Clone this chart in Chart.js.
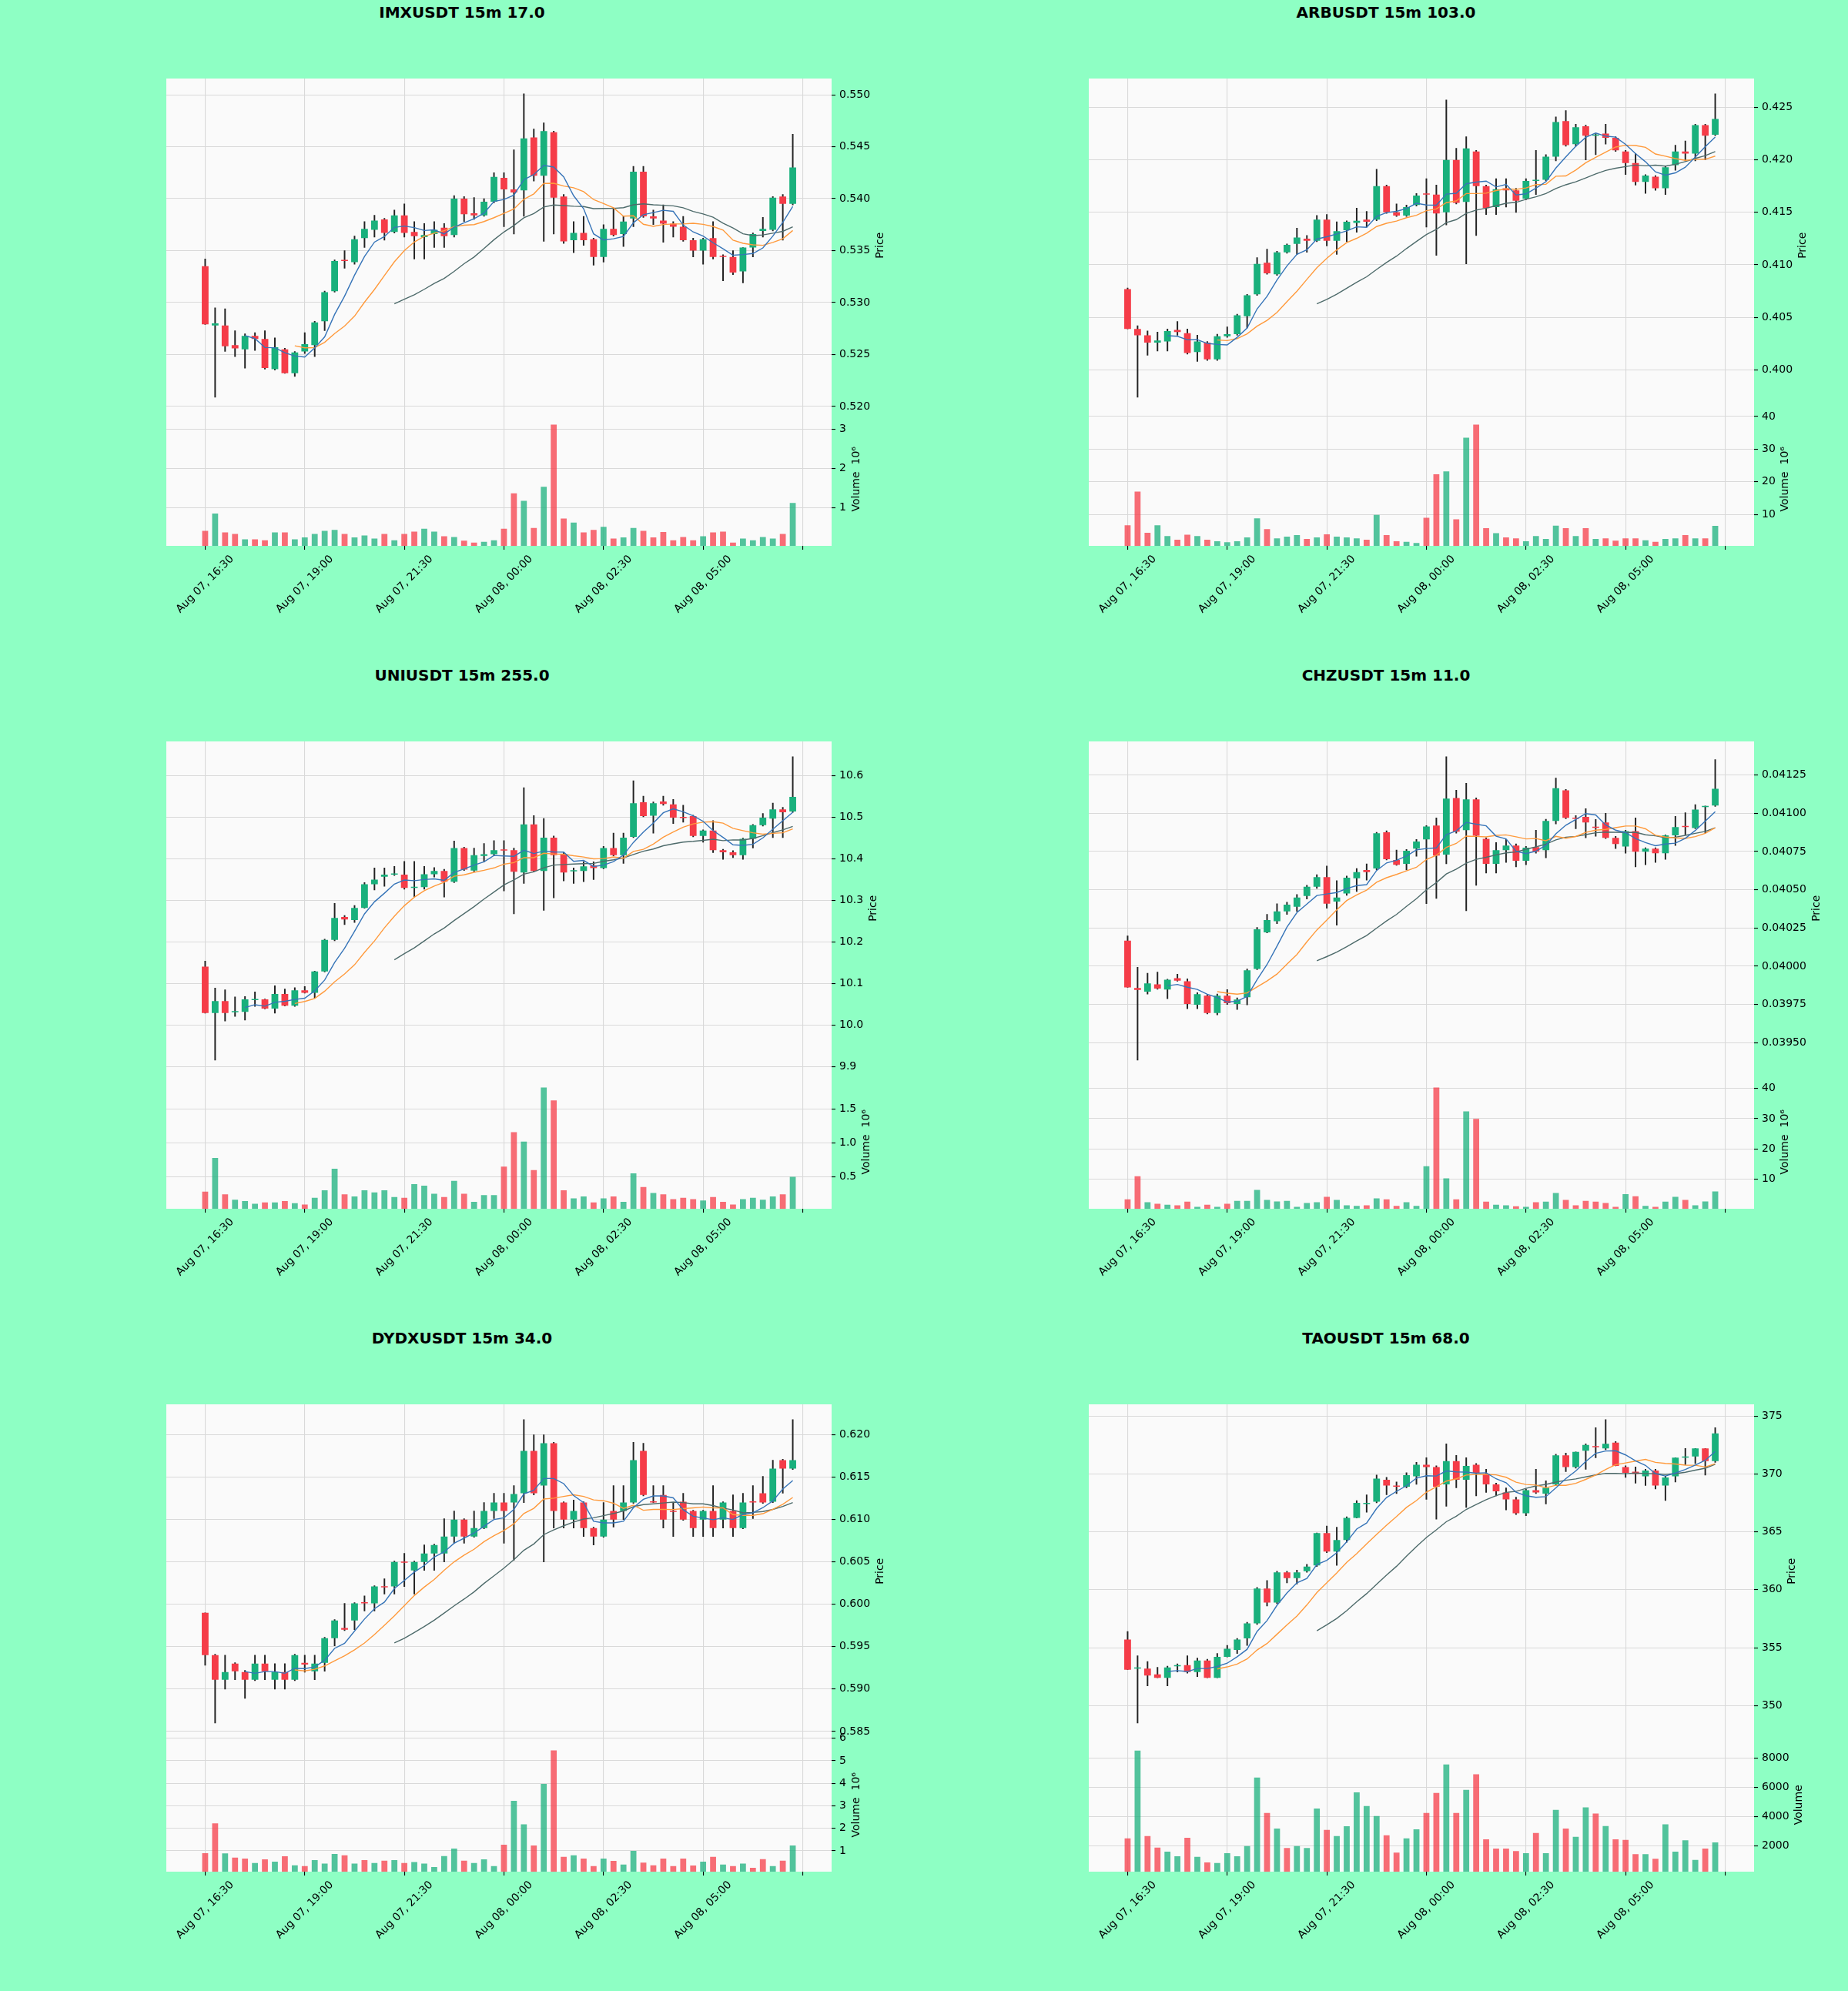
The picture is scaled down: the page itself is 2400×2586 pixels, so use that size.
<!DOCTYPE html>
<html>
<head>
<meta charset="utf-8">
<script src="https://cdn.jsdelivr.net/npm/chart.js@4.4.1/dist/chart.umd.min.js"></script>
<style>
  html, body { margin: 0; padding: 0; background: #8effc4; }
  body { width: 2400px; height: 2586px; position: relative; overflow: hidden; font-family: "DejaVu Sans", sans-serif; }
  .ttl { position: absolute; width: 1200px; text-align: center; font-weight: bold; font-size: 20px; line-height: 24px; color: #000; }
  canvas { position: absolute; }
</style>
</head>
<body>
<script>
// x axis: candle index, labelled every 10 candles (2.5h of 15m bars)
const timeTicks = [0, 10, 20, 30, 40, 50, 60];
const timeLabels = ['Aug 07, 16:30', 'Aug 07, 19:00', 'Aug 07, 21:30', 'Aug 08, 00:00', 'Aug 08, 02:30', 'Aug 08, 05:00', ''];

// IMXUSDT
const imxOpen = [.5335,.5278,.5278,.5259,.5255,.5268,.5265,.5236,.5255,.5232,.5253,.5259,.5282,.5311,.5341,.5339,.5362,.5370,.5380,.5368,.5384,.5368,.5363,.5366,.5372,.5365,.5400,.5386,.5384,.5397,.5420,.5409,.5408,.5459,.5422,.5464,.5402,.5360,.5367,.5361,.5344,.5371,.5366,.5381,.5426,.5383,.5379,.5376,.5373,.5360,.5350,.5362,.5345,.5344,.5330,.5353,.5369,.5370,.5402,.5395];
const imxHigh = [.5342,.5295,.5294,.5273,.5270,.5271,.5273,.5266,.5256,.5253,.5271,.5282,.5311,.5341,.5350,.5364,.5378,.5384,.5381,.5389,.5395,.5378,.5376,.5378,.5376,.5403,.5402,.5401,.5400,.5425,.5425,.5447,.5501,.5467,.5473,.5465,.5404,.5378,.5383,.5362,.5375,.5391,.5383,.5431,.5431,.5389,.5394,.5378,.5383,.5362,.5362,.5378,.5346,.5350,.5353,.5367,.5382,.5402,.5404,.5462];
const imxLow = [.5279,.5209,.5253,.5248,.5237,.5254,.5236,.5235,.5232,.5229,.5251,.5248,.5273,.5310,.5333,.5337,.5353,.5363,.5360,.5367,.5363,.5342,.5342,.5353,.5353,.5363,.5378,.5380,.5383,.5396,.5373,.5366,.5383,.5417,.5359,.5366,.5357,.5348,.5355,.5336,.5339,.5364,.5354,.5373,.5382,.5375,.5358,.5363,.5359,.5344,.5337,.5342,.5321,.5327,.5319,.5344,.5363,.5369,.5360,.5394];
const imxClose = [.5279,.5280,.5258,.5256,.5268,.5265,.5237,.5257,.5232,.5252,.5260,.5281,.5310,.5340,.5340,.5361,.5371,.5379,.5367,.5384,.5367,.5364,.5365,.5370,.5364,.5400,.5385,.5384,.5397,.5421,.5409,.5406,.5458,.5422,.5465,.5401,.5359,.5367,.5360,.5344,.5371,.5365,.5378,.5426,.5383,.5381,.5376,.5373,.5360,.5350,.5361,.5344,.5344,.5329,.5353,.5366,.5371,.5401,.5395,.5430];
const imxVol = [0.42,0.86,0.38,0.34,0.20,0.20,0.18,0.38,0.38,0.20,0.25,0.34,0.42,0.44,0.34,0.25,0.30,0.22,0.34,0.18,0.34,0.40,0.47,0.40,0.28,0.26,0.17,0.12,0.14,0.18,0.47,1.37,1.18,0.49,1.54,3.12,0.73,0.63,0.38,0.44,0.52,0.22,0.25,0.49,0.42,0.25,0.39,0.18,0.26,0.18,0.28,0.38,0.40,0.12,0.22,0.18,0.26,0.22,0.34,1.13];
const imxPriceTicks = [0.520, 0.525, 0.530, 0.535, 0.540, 0.545, 0.550];
const imxVolTicks = [1, 2, 3];

// ARBUSDT
const arbOpen = [.4077,.4039,.4033,.4026,.4027,.4038,.4035,.4017,.4026,.4010,.4032,.4034,.4051,.4072,.4102,.4091,.4112,.4120,.4125,.4123,.4143,.4123,.4133,.4140,.4143,.4143,.4175,.4150,.4147,.4157,.4168,.4167,.4150,.4200,.4160,.4208,.4175,.4155,.4173,.4171,.4163,.4180,.4181,.4203,.4237,.4215,.4232,.4223,.4225,.4221,.4208,.4197,.4179,.4184,.4173,.4195,.4208,.4206,.4233,.4224];
const arbHigh = [.4078,.4042,.4037,.4036,.4039,.4046,.4039,.4033,.4027,.4034,.4041,.4053,.4072,.4107,.4115,.4113,.4120,.4135,.4128,.4147,.4148,.4141,.4142,.4154,.4151,.4191,.4176,.4158,.4157,.4168,.4182,.4176,.4257,.4211,.4222,.4209,.4176,.4182,.4182,.4173,.4182,.4209,.4205,.4241,.4247,.4234,.4233,.4225,.4234,.4222,.4209,.4206,.4186,.4185,.4194,.4214,.4218,.4234,.4234,.4263];
const arbLow = [.4039,.3974,.4014,.4018,.4018,.4033,.4015,.4008,.4009,.4009,.4031,.4033,.4040,.4071,.4091,.4090,.4111,.4110,.4112,.4122,.4118,.4110,.4122,.4131,.4136,.4142,.4149,.4146,.4146,.4156,.4136,.4109,.4138,.4158,.4101,.4128,.4148,.4148,.4155,.4150,.4162,.4167,.4180,.4199,.4213,.4213,.4200,.4205,.4215,.4208,.4186,.4176,.4168,.4171,.4167,.4190,.4199,.4199,.4200,.4223];
const arbClose = [.4039,.4033,.4026,.4028,.4037,.4036,.4016,.4027,.4010,.4032,.4034,.4052,.4071,.4101,.4092,.4112,.4119,.4126,.4123,.4143,.4123,.4132,.4141,.4142,.4141,.4175,.4150,.4147,.4155,.4166,.4167,.4149,.4200,.4159,.4211,.4175,.4154,.4172,.4171,.4161,.4180,.4181,.4203,.4236,.4214,.4231,.4223,.4224,.4221,.4209,.4197,.4179,.4185,.4173,.4193,.4208,.4206,.4233,.4223,.4239];
const arbVol = [6.7,17.0,4.4,6.7,3.4,2.3,3.8,3.4,2.3,1.8,1.5,1.8,3.0,8.8,5.5,2.7,3.2,3.7,2.5,3.0,3.9,3.2,3.0,2.7,2.3,9.9,3.7,1.8,1.6,1.3,9.0,22.3,23.2,8.5,33.5,37.5,5.8,4.3,3.0,2.7,1.8,3.4,2.5,6.6,5.8,3.4,5.8,2.5,2.7,2.0,2.7,2.7,2.1,1.6,2.5,2.7,3.7,2.7,2.7,6.5];
const arbPriceTicks = [0.400, 0.405, 0.410, 0.415, 0.420, 0.425];
const arbVolTicks = [10, 20, 30, 40];

// UNIUSDT
const uniOpen = [10.141,10.029,10.058,10.031,10.032,10.060,10.062,10.040,10.075,10.047,10.084,10.078,10.129,10.205,10.260,10.253,10.282,10.339,10.357,10.362,10.362,10.330,10.332,10.363,10.371,10.345,10.426,10.372,10.407,10.411,10.422,10.421,10.367,10.483,10.371,10.451,10.411,10.370,10.371,10.384,10.378,10.426,10.409,10.453,10.536,10.504,10.538,10.531,10.501,10.503,10.455,10.468,10.421,10.416,10.409,10.448,10.481,10.497,10.519,10.514];
const uniHigh = [10.154,10.089,10.085,10.068,10.069,10.080,10.063,10.095,10.087,10.090,10.093,10.130,10.207,10.293,10.264,10.288,10.343,10.378,10.378,10.382,10.394,10.394,10.382,10.379,10.375,10.443,10.428,10.426,10.437,10.444,10.444,10.426,10.571,10.504,10.497,10.455,10.415,10.378,10.393,10.393,10.430,10.462,10.462,10.588,10.551,10.537,10.551,10.543,10.529,10.505,10.470,10.492,10.423,10.420,10.450,10.483,10.509,10.534,10.524,10.646];
const uniLow = [10.029,9.916,10.010,10.021,10.012,10.045,10.039,10.029,10.046,10.045,10.077,10.065,10.128,10.203,10.242,10.247,10.281,10.325,10.334,10.360,10.327,10.308,10.327,10.356,10.308,10.343,10.372,10.369,10.393,10.409,10.323,10.268,10.341,10.369,10.276,10.306,10.347,10.341,10.345,10.350,10.376,10.407,10.389,10.451,10.501,10.462,10.529,10.485,10.488,10.453,10.440,10.415,10.399,10.403,10.399,10.426,10.479,10.451,10.451,10.512];
const uniClose = [10.029,10.058,10.029,10.034,10.062,10.063,10.040,10.075,10.047,10.084,10.078,10.129,10.205,10.258,10.254,10.282,10.339,10.350,10.362,10.364,10.330,10.332,10.363,10.371,10.345,10.426,10.374,10.409,10.411,10.421,10.420,10.369,10.483,10.371,10.451,10.409,10.367,10.372,10.382,10.378,10.426,10.409,10.451,10.534,10.503,10.534,10.532,10.499,10.498,10.455,10.468,10.421,10.416,10.409,10.448,10.481,10.499,10.519,10.512,10.549];
const uniVol = [0.28,0.78,0.24,0.16,0.14,0.10,0.12,0.12,0.14,0.11,0.09,0.19,0.30,0.62,0.24,0.21,0.30,0.27,0.30,0.20,0.19,0.39,0.37,0.25,0.20,0.44,0.25,0.13,0.23,0.23,0.65,1.16,1.02,0.60,1.82,1.63,0.30,0.18,0.21,0.12,0.18,0.21,0.13,0.55,0.35,0.26,0.24,0.17,0.19,0.17,0.15,0.20,0.13,0.09,0.17,0.19,0.16,0.21,0.24,0.50];
const uniPriceTicks = [9.9, 10.0, 10.1, 10.2, 10.3, 10.4, 10.5, 10.6];
const uniVolTicks = [0.5, 1.0, 1.5];

// CHZUSDT
const chzOpen = [.040168,.039858,.039834,.039882,.039848,.039922,.039902,.039748,.039808,.039694,.039808,.039754,.039798,.039982,.040222,.040294,.040358,.040389,.040459,.040519,.040583,.040423,.040475,.040575,.040629,.040639,.040875,.040695,.040669,.040769,.040829,.040919,.040729,.041100,.040889,.041090,.040833,.040669,.040759,.040789,.040689,.040779,.040759,.040950,.041150,.040970,.040976,.040909,.040940,.040839,.040783,.040883,.040749,.040769,.040739,.040855,.040915,.040903,.041040,.041050];
const chzHigh = [.040198,.039994,.039954,.039962,.039916,.039948,.039918,.039828,.039814,.039818,.039848,.039794,.039982,.040254,.040339,.040409,.040419,.040469,.040529,.040599,.040655,.040559,.040589,.040639,.040669,.040875,.040885,.040759,.040763,.040829,.040919,.040969,.041370,.041150,.041196,.041100,.040839,.040809,.040829,.040799,.040783,.040889,.040960,.041230,.041156,.040985,.041030,.040959,.041000,.040849,.040889,.040969,.040775,.040775,.040859,.040980,.041004,.041056,.041048,.041350];
const chzLow = [.039862,.039387,.039818,.039850,.039788,.039902,.039722,.039722,.039688,.039682,.039750,.039718,.039748,.039978,.040218,.040278,.040339,.040359,.040439,.040509,.040379,.040268,.040463,.040489,.040563,.040629,.040695,.040659,.040629,.040719,.040409,.040443,.040669,.040869,.040363,.040529,.040609,.040609,.040679,.040649,.040663,.040739,.040709,.040930,.040964,.040899,.040839,.040849,.040835,.040769,.040739,.040649,.040663,.040679,.040699,.040789,.040859,.040899,.040869,.041045];
const chzClose = [.039862,.039846,.039888,.039854,.039912,.039906,.039754,.039818,.039694,.039808,.039758,.039782,.039974,.040242,.040302,.040358,.040403,.040449,.040519,.040583,.040409,.040449,.040579,.040615,.040615,.040869,.040699,.040663,.040755,.040815,.040913,.040723,.041096,.040879,.041090,.040853,.040669,.040759,.040789,.040689,.040775,.040749,.040950,.041164,.040970,.040964,.040940,.040905,.040839,.040799,.040883,.040749,.040769,.040739,.040855,.040909,.040909,.041024,.041048,.041160];
const chzVol = [3.4,11.0,2.4,1.9,1.6,1.4,2.6,0.9,1.6,0.9,1.9,2.9,2.9,6.5,3.2,2.7,2.9,0.9,2.2,2.4,4.2,3.2,1.4,1.2,1.4,3.7,3.4,1.2,2.4,1.2,14.3,40.3,10.3,3.4,32.4,29.9,2.6,1.6,1.4,1.1,0.9,2.4,2.6,5.5,3.2,1.4,2.9,2.6,2.2,0.9,5.1,4.4,1.2,0.9,2.6,4.2,3.2,1.4,2.7,6.0];
const chzPriceTicks = [0.03950, 0.03975, 0.04000, 0.04025, 0.04050, 0.04075, 0.04100, 0.04125];
const chzVolTicks = [10, 20, 30, 40];

// DYDXUSDT
const dydxOpen = [.5990,.5940,.5911,.5930,.5920,.5911,.5930,.5911,.5920,.5911,.5931,.5921,.5931,.5960,.5972,.5981,.6002,.6001,.6021,.6021,.6050,.6040,.6050,.6060,.6060,.6080,.6100,.6080,.6090,.6110,.6120,.6120,.6131,.6181,.6140,.6190,.6120,.6100,.6120,.6090,.6080,.6110,.6110,.6120,.6181,.6121,.6129,.6110,.6121,.6110,.6100,.6110,.6100,.6110,.6090,.6121,.6131,.6121,.6170,.6160];
const dydxHigh = [.5990,.5941,.5940,.5931,.5922,.5940,.5940,.5930,.5930,.5941,.5940,.5940,.5961,.5982,.6001,.6002,.6010,.6022,.6030,.6051,.6060,.6051,.6070,.6071,.6101,.6110,.6101,.6110,.6120,.6131,.6131,.6140,.6218,.6200,.6200,.6191,.6121,.6123,.6121,.6091,.6120,.6140,.6140,.6191,.6190,.6140,.6140,.6120,.6131,.6111,.6111,.6140,.6121,.6129,.6131,.6140,.6151,.6170,.6171,.6218];
const dydxLow = [.5928,.5860,.5900,.5911,.5889,.5910,.5911,.5900,.5900,.5910,.5920,.5911,.5921,.5951,.5969,.5970,.5992,.5992,.6012,.6012,.6021,.6012,.6040,.6040,.6050,.6072,.6072,.6079,.6089,.6101,.6072,.6052,.6120,.6129,.6050,.6090,.6090,.6090,.6080,.6070,.6079,.6091,.6100,.6119,.6128,.6120,.6090,.6080,.6099,.6080,.6080,.6080,.6090,.6080,.6089,.6101,.6119,.6120,.6131,.6159];
const dydxClose = [.5940,.5911,.5920,.5921,.5911,.5930,.5921,.5920,.5911,.5940,.5929,.5930,.5960,.5981,.5970,.6001,.6001,.6021,.6020,.6050,.6049,.6050,.6060,.6070,.6080,.6100,.6080,.6090,.6110,.6120,.6110,.6130,.6181,.6131,.6190,.6110,.6100,.6110,.6090,.6080,.6100,.6100,.6120,.6170,.6129,.6120,.6100,.6109,.6100,.6090,.6110,.6090,.6120,.6090,.6120,.6120,.6120,.6160,.6160,.6170];
const dydxVol = [0.90,2.22,0.89,0.70,0.66,0.46,0.62,0.52,0.76,0.36,0.32,0.59,0.43,0.86,0.80,0.43,0.59,0.46,0.56,0.59,0.46,0.50,0.43,0.28,0.77,1.10,0.56,0.46,0.62,0.32,1.27,3.22,2.18,1.24,3.97,5.46,0.73,0.80,0.66,0.32,0.66,0.55,0.39,1.00,0.48,0.36,0.66,0.32,0.66,0.35,0.52,0.73,0.39,0.32,0.43,0.25,0.63,0.32,0.56,1.24];
const dydxPriceTicks = [0.585, 0.590, 0.595, 0.600, 0.605, 0.610, 0.615, 0.620];
const dydxVolTicks = [1, 2, 3, 4, 5, 6];

// TAOUSDT
const taoOpen = [355.7,353.2,353.2,352.7,352.4,353.4,353.5,352.9,353.9,352.4,354.2,354.8,355.8,357.1,360.1,358.9,361.5,361.0,361.6,362.1,364.9,363.3,364.3,366.2,367.4,367.6,369.5,369.0,368.9,369.8,370.8,370.6,369.1,371.1,369.5,370.8,370.0,369.1,368.4,367.8,366.6,368.6,368.3,369.1,371.6,370.6,372.0,372.4,372.2,372.7,370.6,370.2,369.8,370.3,369.0,369.8,371.4,371.5,372.2,371.1];
const taoHigh = [356.4,354.3,353.8,353.3,353.4,353.6,354.3,354.1,354.0,354.5,355.2,355.8,357.2,360.2,360.8,361.6,361.6,361.7,362.2,364.9,365.5,365.4,366.3,367.7,368.2,369.9,369.7,369.3,370.1,371.0,371.4,370.7,372.6,371.6,371.4,370.9,370.4,369.2,368.8,368.0,368.7,370.4,369.4,371.7,371.8,371.9,372.6,374.0,374.7,372.8,370.7,370.6,370.4,370.4,369.8,371.4,372.2,372.2,372.2,374.0];
const taoLow = [353.1,348.5,351.7,352.4,351.7,352.9,352.8,352.5,352.4,352.4,354.2,354.5,355.2,357.0,358.6,358.8,360.6,360.5,361.5,362.0,363.2,362.1,364.1,366.2,366.7,367.5,368.2,368.3,368.8,369.1,367.8,366.1,367.2,368.8,367.1,368.1,368.4,368.1,366.9,366.5,366.4,368.3,367.4,369.0,370.2,370.5,370.4,371.4,372.1,370.7,369.7,369.2,369.0,368.7,367.7,369.3,370.8,370.9,369.9,371.0];
const taoClose = [353.1,353.3,352.6,352.4,353.3,353.5,352.9,353.9,352.4,354.2,354.9,355.7,357.1,360.1,358.9,361.5,361.0,361.5,362.0,364.9,363.3,364.3,366.2,367.5,367.5,369.6,369.0,368.9,369.9,370.8,370.6,368.9,371.1,369.5,370.7,370.1,369.1,368.5,367.8,366.6,368.6,368.4,368.8,371.6,370.6,371.9,372.5,372.3,372.6,370.7,370.1,370.0,370.3,369.0,369.7,371.4,371.5,372.2,371.1,373.5];
const taoVol = [2530,8520,2680,1890,1620,1300,2570,1260,880,840,1510,1300,2000,6680,4260,3200,1870,2000,1870,4570,3100,2680,3350,5670,4740,4050,2740,1560,2530,3140,4260,5630,7570,4260,5840,6900,2460,1830,1830,1660,1510,2890,1510,4470,3200,2630,4640,4220,3370,2460,2420,1450,1450,1130,3480,1620,2400,1050,1830,2250];
const taoPriceTicks = [350, 355, 360, 365, 370, 375];
const taoVolTicks = [2000, 4000, 6000, 8000];

const panels = [
  { title: 'IMXUSDT 15m 17.0', o: imxOpen, h: imxHigh, l: imxLow, c: imxClose, v: imxVol, pt: imxPriceTicks, pd: 3, vt: imxVolTicks, vd: 0, vl: 'Volume  10\u2076' },
  { title: 'ARBUSDT 15m 103.0', o: arbOpen, h: arbHigh, l: arbLow, c: arbClose, v: arbVol, pt: arbPriceTicks, pd: 3, vt: arbVolTicks, vd: 0, vl: 'Volume  10\u2076' },
  { title: 'UNIUSDT 15m 255.0', o: uniOpen, h: uniHigh, l: uniLow, c: uniClose, v: uniVol, pt: uniPriceTicks, pd: 1, vt: uniVolTicks, vd: 1, vl: 'Volume  10\u2076' },
  { title: 'CHZUSDT 15m 11.0', o: chzOpen, h: chzHigh, l: chzLow, c: chzClose, v: chzVol, pt: chzPriceTicks, pd: 5, vt: chzVolTicks, vd: 0, vl: 'Volume  10\u2076' },
  { title: 'DYDXUSDT 15m 34.0', o: dydxOpen, h: dydxHigh, l: dydxLow, c: dydxClose, v: dydxVol, pt: dydxPriceTicks, pd: 3, vt: dydxVolTicks, vd: 0, vl: 'Volume  10\u2076' },
  { title: 'TAOUSDT 15m 68.0', o: taoOpen, h: taoHigh, l: taoLow, c: taoClose, v: taoVol, pt: taoPriceTicks, pd: 0, vt: taoVolTicks, vd: 0, vl: 'Volume' }
];

const UP = '#19b07c', DOWN = '#f53c48';
const UP_VOL = 'rgba(25,176,124,0.75)', DOWN_VOL = 'rgba(245,60,72,0.75)';
const MA_COLORS = ['#3674b8', '#ff9a3c', '#4e6b6b'];
const GRID = '#d9d9d9';
const FONT = '14px "DejaVu Sans"';

// layout (px)
const PLOT_W = 864, PLOT_H = 607, PAD_L = 40, PAD_T = 30, AXIS_W = 110, XAX_H = 120;
const colLeft = [216, 1414];
const rowTop = [102, 963, 1824];

Chart.defaults.font.family = '"DejaVu Sans"';
Chart.defaults.color = '#000';

function movingAvg(src, n) {
  return src.map((_, i) => i < n - 1 ? null : src.slice(i - n + 1, i + 1).reduce((a, b) => a + b, 0) / n);
}

const plotBg = {
  id: 'plotBg',
  beforeDraw(chart) {
    const { ctx, chartArea: a } = chart;
    ctx.save();
    ctx.fillStyle = '#fafafa';
    ctx.fillRect(a.left, a.top, a.width, a.height);
    ctx.restore();
  }
};

// matplotlib-style labels: y titles rotated 90deg ccw, x tick labels rotated 45deg and centred on the tick
const axisText = {
  id: 'axisText',
  afterDraw(chart, args, opts) {
    const ctx = chart.ctx;
    ctx.save();
    ctx.font = FONT;
    ctx.fillStyle = '#000';
    ctx.textAlign = 'center';
    ctx.textBaseline = 'middle';
    ['y', 'yv'].forEach(id => {
      const s = chart.scales[id];
      const w = Math.max(...s.ticks.map(t => ctx.measureText(String(t.label)).width));
      ctx.save();
      ctx.translate(s.left + 10 + w + 13, (s.top + s.bottom) / 2);
      ctx.rotate(-Math.PI / 2);
      ctx.fillText(opts[id], 0, 0);
      ctx.restore();
    });
    const xs = chart.scales.x;
    const h = 14;
    timeTicks.forEach((v, i) => {
      const label = timeLabels[i];
      if (!label) return;
      const len = ctx.measureText(label).width;
      const half = (len + h) / (2 * Math.SQRT2);
      ctx.save();
      ctx.translate(xs.getPixelForValue(v), xs.top + 10 + half);
      ctx.rotate(-Math.PI / 4);
      ctx.fillText(label, 0, 0);
      ctx.restore();
    });
    ctx.restore();
  }
};

panels.forEach((p, k) => {
  const col = k % 2, row = Math.floor(k / 2);

  const t = document.createElement('div');
  t.className = 'ttl';
  t.style.left = (col * 1200) + 'px';
  t.style.top = (rowTop[row] - 98) + 'px';
  t.textContent = p.title;
  document.body.appendChild(t);

  const cv = document.createElement('canvas');
  cv.width = PAD_L + PLOT_W + AXIS_W;
  cv.height = PAD_T + PLOT_H + XAX_H;
  cv.style.left = (colLeft[col] - PAD_L) + 'px';
  cv.style.top = (rowTop[row] - PAD_T) + 'px';
  document.body.appendChild(cv);

  const idx = p.c.map((_, i) => i);
  const up = idx.map(i => p.c[i] >= p.o[i]);
  const lo = Math.min(...p.l), hi = Math.max(...p.h), pad = (hi - lo) * 0.05;

  const maSets = [5, 10, 20].map((n, j) => ({
    type: 'line',
    data: movingAvg(p.c, n).map((y, i) => ({ x: i, y })),
    yAxisID: 'y',
    borderColor: MA_COLORS[j],
    borderWidth: 1.4,
    pointRadius: 0,
    tension: 0,
    order: 0
  }));

  new Chart(cv, {
    type: 'bar',
    data: {
      datasets: [
        ...maSets,
        {
          data: idx.map(i => ({ x: i, y: [p.o[i], p.c[i]] })),
          yAxisID: 'y',
          backgroundColor: up.map(u => u ? UP : DOWN),
          grouped: false, categoryPercentage: 1, barPercentage: 0.68, minBarLength: 1.5,
          order: 1
        },
        {
          data: idx.map(i => ({ x: i, y: [p.l[i], p.h[i]] })),
          yAxisID: 'y',
          backgroundColor: '#222222',
          grouped: false, barThickness: 1.3,
          order: 2
        },
        {
          data: idx.map(i => ({ x: i, y: p.v[i] })),
          yAxisID: 'yv',
          backgroundColor: up.map(u => u ? UP_VOL : DOWN_VOL),
          grouped: false, categoryPercentage: 1, barPercentage: 0.6,
          order: 3
        }
      ]
    },
    options: {
      responsive: false,
      animation: false,
      devicePixelRatio: 1,
      layout: { padding: { left: PAD_L, top: PAD_T, right: 0, bottom: 0 } },
      plugins: {
        legend: { display: false },
        tooltip: { enabled: false },
        axisText: { y: 'Price', yv: p.vl }
      },
      scales: {
        x: {
          type: 'linear', min: -3.9, max: 62.9, offset: false,
          afterBuildTicks: s => { s.ticks = timeTicks.map(v => ({ value: v })); },
          afterFit: s => { s.height = XAX_H; },
          ticks: { display: false },
          grid: { offset: false, color: GRID, lineWidth: 1.1, tickColor: '#000', tickLength: 5 },
          border: { display: false }
        },
        y: {
          position: 'right', stack: 'panel', stackWeight: 5,
          min: lo - pad, max: hi + pad,
          afterBuildTicks: s => { s.ticks = p.pt.map(v => ({ value: v })); },
          afterFit: s => { s.width = AXIS_W; },
          ticks: { font: { size: 14 }, color: '#000', padding: 5, callback: v => v.toFixed(p.pd) },
          grid: { color: GRID, lineWidth: 1.1, tickColor: '#000', tickLength: 5 },
          border: { display: false }
        },
        yv: {
          position: 'right', stack: 'panel', stackWeight: 2,
          min: 0.3 * Math.min(...p.v), max: 1.1 * Math.max(...p.v),
          afterBuildTicks: s => { s.ticks = p.vt.map(v => ({ value: v })); },
          afterFit: s => { s.width = AXIS_W; },
          ticks: { font: { size: 14 }, color: '#000', padding: 5, callback: v => v.toFixed(p.vd) },
          grid: { color: GRID, lineWidth: 1.1, tickColor: '#000', tickLength: 5 },
          border: { display: false }
        }
      }
    },
    plugins: [plotBg, axisText]
  });
});
</script>
</body>
</html>
